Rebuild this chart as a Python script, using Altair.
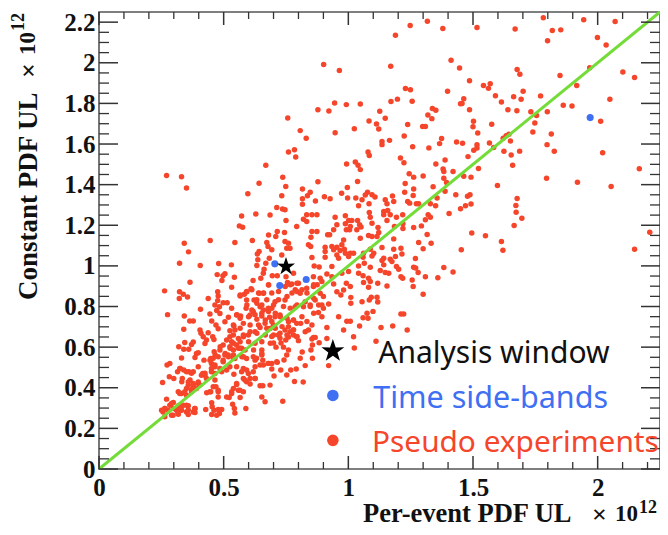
import altair as alt
import pandas as pd

pseudo_lower = [(.342,1.112),(.359,1.069),(.323,1.013),(.406,1.002),(.480,1.012),(.531,1.005),(.446,1.125),(.545,1.115),(.615,1.125),(.673,1.115),(.678,1.095),(.642,1.071),(.635,1.059),(.637,1.030),(.683,1.038),(.633,1.002),(.669,1.013),(.662,.984),(.659,.964),(.474,.957),(.497,.951),(.505,.961),(.543,.944),(.493,.928),(.618,.928),(.649,.939),(.365,.919),(.532,.895),(.680,.906),(.263,.877),(.323,.873),(.338,.860),(.322,.840),(.355,.847),(.476,.873),(.478,.852),(.438,.839),(.476,.829),(.583,.860),(.566,.852),(.592,.873),(.610,.887),(.592,.832),(.643,.865),(.659,.865),(.622,.832),(.633,.816),(.465,.808),(.498,.819),(.514,.819),(.483,.799),(.407,.786),(.275,.760),(.342,.753),(.472,.780),(.445,.763),(.485,.766),(.532,.791),(.519,.747),(.505,.725),(.452,.729),(.469,.709),(.478,.691),(.552,.758),(.568,.753),(.590,.791),(.619,.775),(.646,.799),(.659,.783),(.679,.791),(.653,.753),(.684,.747),(.606,.758),(.364,.729),(.378,.729),(.340,.688),(.541,.704),(.525,.681),(.545,.684),(.579,.717),(.633,.737),(.666,.717),(.646,.697),(.626,.676),(.686,.692),(.405,.684),(.409,.668),(.438,.671),(.418,.651),(.431,.635),(.425,.618),(.456,.651),(.461,.638),(.344,.623),(.378,.625),(.371,.613),(.320,.602),(.340,.590),(.360,.590),(.525,.651),(.539,.660),(.512,.635),(.532,.627),(.559,.643),(.579,.651),(.599,.660),(.552,.610),(.525,.602),(.498,.610),(.485,.586),(.539,.586),(.572,.594),(.505,.561),(.462,.577),(.391,.569),(.398,.572),(.385,.549),(.331,.546),(.421,.536),(.448,.544),(.478,.553),(.451,.520),(.465,.512),(.519,.553),(.545,.544),(.498,.528),(.525,.503),(.552,.503),(.592,.544),(.619,.553),(.653,.561),(.626,.536),(.657,.536),(.646,.512),(.626,.503),(.679,.520),(.284,.520),(.273,.512),(.326,.495),(.315,.479),(.340,.487),(.360,.479),(.378,.479),(.398,.503),(.416,.470),(.425,.462),(.465,.470),(.451,.495),(.492,.479),(.512,.487),(.541,.467),(.579,.495),(.572,.479),(.599,.470),(.619,.479),(.579,.446),(.592,.429),(.606,.418),(.626,.446),(.646,.410),(.657,.410),(.686,.413),(.282,.454),(.300,.446),(.255,.426),(.332,.429),(.334,.446),(.365,.438),(.358,.413),(.378,.413),(.398,.421),(.431,.446),(.351,.396),(.371,.393),(.391,.396),(.405,.413),(.318,.380),(.331,.372),(.351,.363),(.371,.380),(.432,.375),(.448,.380),(.469,.405),(.478,.380),(.465,.438),(.478,.355),(.552,.416),(.559,.388),(.539,.396),(.532,.372),(.522,.352),(.566,.352),(.579,.380),(.653,.355),(.666,.331),(.271,.344),(.298,.327),(.284,.314),(.264,.298),(.251,.289),(.277,.289),(.298,.298),(.318,.311),(.338,.314),(.358,.311),(.385,.298),(.311,.289),(.331,.289),(.351,.281),(.385,.278),(.291,.265),(.264,.257),(.318,.270),(.358,.268),(.428,.293),(.452,.326),(.454,.306),(.461,.289),(.478,.293),(.492,.293),(.483,.273),(.452,.268),(.472,.265),(.536,.319),(.543,.298),(.545,.276),(.589,.298)]

pseudo_center = [(.807,1.666),(.947,1.655),(.831,1.628),(.760,1.561),(.784,1.572),(.789,1.536),(1.135,1.613),(1.135,1.597),(1.165,1.618),(1.224,1.640),(1.258,1.587),(1.323,1.581),(1.374,1.627),(1.366,1.602),(1.434,1.610),(1.458,1.604),(1.079,1.561),(1.084,1.543),(1.209,1.531),(1.223,1.508),(1.480,1.538),(.993,1.502),(1.028,1.511),(1.039,1.495),(1.048,1.474),(1.351,1.502),(1.388,1.521),(1.380,1.477),(1.383,1.465),(1.420,1.465),(1.244,1.454),(1.262,1.437),(1.300,1.442),(1.383,1.432),(1.394,1.411),(1.463,1.441),(.737,1.436),(.878,1.414),(1.037,1.416),(1.228,1.406),(.749,1.391),(.816,1.378),(.996,1.386),(1.262,1.378),(1.340,1.390),(1.388,1.367),(.847,1.362),(.836,1.345),(.733,1.345),(.973,1.358),(1.077,1.362),(1.068,1.349),(1.095,1.350),(1.107,1.339),(1.226,1.362),(1.260,1.347),(1.177,1.344),(1.431,1.350),(1.488,1.350),(.816,1.331),(.816,1.303),(.868,1.319),(.904,1.340),(.927,1.331),(.997,1.334),(1.030,1.334),(1.055,1.326),(1.083,1.306),(1.041,1.296),(1.148,1.326),(1.155,1.306),(1.182,1.317),(1.238,1.317),(1.246,1.309),(1.273,1.306),(1.282,1.306),(1.356,1.334),(1.329,1.306),(1.350,1.296),(1.470,1.296),(1.450,1.281),(.713,1.288),(.736,1.280),(.746,1.276),(.686,1.250),(.854,1.252),(.833,1.252),(.874,1.252),(.820,1.230),(.833,1.219),(.750,1.224),(.793,1.194),(.947,1.240),(.988,1.247),(1.084,1.263),(1.088,1.240),(1.142,1.268),(1.158,1.273),(1.168,1.252),(1.142,1.252),(1.155,1.224),(1.193,1.240),(1.218,1.252),(1.404,1.258),(1.320,1.252),(1.329,1.240),(1.309,1.227),(1.001,1.224),(1.014,1.224),(.988,1.207),(1.008,1.194),(.992,1.178),(1.005,1.178),(1.037,1.224),(1.045,1.202),(1.034,1.178),(1.051,1.191),(.954,1.202),(.941,1.178),(1.095,1.210),(1.119,1.189),(1.185,1.194),(1.219,1.207),(1.219,1.184),(1.262,1.189),(1.293,1.197),(.715,1.169),(.744,1.164),(.854,1.169),(.874,1.169),(.850,1.141),(.917,1.153),(.925,1.153),(.981,1.128),(1.081,1.150),(1.095,1.145),(1.115,1.145),(1.048,1.136),(1.122,1.164),(1.316,1.155),(1.182,1.133),(1.282,1.115),(1.332,1.112),(.709,1.145),(.746,1.120),(.760,1.112),(.840,1.104),(.849,1.095),(.907,1.092),(.934,1.095),(.954,1.092),(.974,1.104),(.984,1.082),(.967,1.076),(1.008,1.062),(.988,1.062),(.941,1.079),(.907,1.071),(.907,1.043),(.954,1.054),(.961,1.038),(1.001,1.046),(1.021,1.062),(1.061,1.062),(1.088,1.082),(1.102,1.062),(1.135,1.090),(1.182,1.082),(1.211,1.087),(1.300,1.084),(1.453,1.079),(.766,1.087),(.753,1.087),(.854,1.041),(.733,1.054),(.693,1.079),(1.059,1.043),(1.095,1.049),(1.142,1.038),(1.168,1.033),(1.189,1.046),(1.215,1.059),(1.269,1.036),(.863,1.000),(.883,.995),(.934,.997),(1.041,1.000),(1.064,1.013),(1.088,.993),(1.135,1.026),(1.142,1.005),(1.128,.977),(1.148,.967),(1.162,.964),(1.175,1.021),(1.193,.997),(1.202,.983),(1.262,.993),(1.270,.990),(1.280,.967),(1.309,.947),(1.359,.942),(1.383,.992),(1.420,.970),(.695,.951),(.715,.951),(.750,.947),(.780,.964),(.860,.947),(.887,.939),(.914,.960),(.934,.947),(.974,.964),(1.001,.972),(1.041,.964),(1.059,.952),(1.081,.939),(1.088,.923),(1.118,.914),(1.061,.918),(1.155,.901),(1.211,.947),(1.218,.939),(1.256,.931),(1.260,.898),(1.300,.860),(1.081,.895),(.756,.918),(.773,.911),(.800,.914),(.833,.890),(.860,.898),(.894,.923),(.941,.911),(.992,.914),(1.008,.898),(.981,.881),(.954,.873),(.970,.857),(.787,.882),(.807,.865),(.887,.865),(.900,.849),(1.010,.845),(1.010,.816),(1.055,.824),(1.084,.832),(1.092,.846),(1.115,.846),(1.118,.822),(.706,.824),(.693,.791),(.746,.832),(.787,.799),(.820,.799),(.847,.807),(.867,.832),(.894,.807),(.921,.812),(.900,.791),(.880,.770),(.894,.750),(.961,.750),(.994,.727),(1.008,.727),(.914,.697),(.981,.684),(1.045,.704),(1.059,.745),(1.075,.767),(1.079,.742),(1.099,.776),(1.131,.697),(1.178,.704),(1.211,.763),(1.222,.763),(1.236,.684),(1.021,.651),(.914,.643),(.860,.648),(.827,.676),(.793,.717),(.809,.717),(.780,.733),(.760,.725),(.726,.758),(.706,.750),(.746,.684),(.766,.676),(.854,.709),(.840,.684),(.793,.651),(.726,.668),(.699,.709)]

pseudo_upper = [(.901,1.991),(.964,1.962),(.878,1.769),(.922,1.763),(.945,1.802),(.992,1.794),(1.048,1.797),(1.126,1.761),(.757,1.728),(1.083,1.713),(1.113,1.699),(1.122,1.674),(1.024,1.675),(.271,1.445),(.331,1.439),(.351,1.383),(.669,1.495),(.642,1.407),(.597,1.355),(.572,1.246),(.629,1.256),(.563,1.197),(.576,1.190),(.680,1.152),(1.248,2.184),(1.317,2.205),(1.189,2.135),(1.379,2.169),(1.412,2.013),(1.446,1.974),(1.170,1.983),(1.229,1.873),(1.249,1.867),(1.398,1.860),(1.197,1.821),(1.171,1.809),(1.256,1.811),(1.450,1.798),(1.337,1.775),(1.351,1.766),(1.319,1.743),(1.335,1.725),(1.148,1.727),(1.238,1.696),(1.298,1.686),(1.309,1.686)]

pseudo_right = [(1.782,2.222),(1.944,2.212),(2.070,2.203),(1.516,2.174),(1.669,2.166),(1.818,2.159),(1.852,2.162),(1.799,2.108),(1.999,2.124),(2.034,2.087),(1.677,1.967),(1.688,1.944),(1.968,1.976),(1.849,1.937),(2.101,1.955),(2.148,1.927),(1.916,1.888),(1.486,1.912),(1.542,1.888),(1.569,1.897),(1.562,1.874),(1.701,1.860),(1.590,1.838),(1.614,1.807),(1.663,1.833),(1.693,1.820),(1.771,1.837),(2.049,1.820),(1.463,1.823),(1.456,1.799),(1.486,1.769),(1.640,1.769),(1.676,1.764),(1.862,1.791),(1.897,1.787),(1.732,1.759),(1.755,1.740),(1.798,1.759),(2.012,1.712),(1.502,1.712),(1.500,1.685),(1.575,1.697),(1.519,1.654),(1.748,1.703),(1.740,1.659),(1.814,1.649),(1.633,1.641),(1.644,1.648),(1.621,1.629),(1.650,1.615),(1.566,1.605),(1.516,1.597),(1.516,1.580),(1.503,1.569),(1.583,1.583),(1.797,1.597),(1.624,1.564),(1.687,1.565),(1.653,1.546),(1.826,1.564),(2.020,1.557),(1.659,1.495),(1.522,1.480),(2.167,1.478),(1.492,1.437),(1.795,1.432),(1.919,1.412),(2.054,1.391),(1.598,1.396),(1.478,1.343),(1.677,1.332),(1.492,1.305),(1.672,1.297),(1.673,1.264),(1.696,1.235),(1.665,1.199),(2.209,1.166),(1.495,1.162),(1.550,1.148),(1.614,1.120),(1.620,1.077),(2.148,1.082)]

pseudo_low_mid = [(1.024,.596),(1.111,.629),(.883,.622),(.854,.640),(.867,.648),(.856,.611),(.850,.586),(.856,.545),(.815,.576),(.807,.545),(.827,.509),(.921,.509),(.800,.632),(.760,.586),(.753,.561),(.742,.537),(.715,.525),(.693,.520),(.693,.492),(.729,.487),(.769,.487),(.791,.492),(.753,.463),(.702,.458),(.784,.431),(.819,.428),(.737,.334),(.749,.635),(.726,.644),(.780,.685),(.70,.62),(.71,.60),(.73,.62),(.76,.65),(.78,.66),(.72,.66),(.74,.60),(.70,.66)]

pseudo_dense = [(.593,.874),(.613,.882),(.566,.857),(.640,.866),(.660,.866),(.680,.907),(.693,.866),(.720,.874),(.747,.898),(.767,.907),(.794,.915),(.794,.874),(.774,.866),(.754,.849),(.814,.882),(.834,.866),(.861,.907),(.875,.907),(.633,.833),(.653,.808),(.673,.833),(.700,.808),(.720,.833),(.740,.800),(.767,.792),(.794,.808),(.827,.824),(.861,.841),(.881,.808),(.847,.800),(.593,.808),(.613,.783),(.626,.759),(.553,.759),(.566,.742),(.600,.750),(.653,.767),(.680,.775),(.707,.767),(.727,.750),(.667,.734),(.693,.726),(.754,.742),(.780,.734),(.814,.750),(.834,.726),(.861,.767),(.760,.701),(.734,.701),(.707,.693),(.673,.693),(.640,.709),(.606,.709),(.566,.693),(.539,.709),(.579,.660),(.606,.676),(.633,.668),(.667,.660),(.693,.652),(.720,.660),(.754,.660),(.780,.685),(.794,.652),(.566,.627),(.600,.627),(.626,.619),(.653,.627),(.687,.619),(.539,.619),(.526,.594),(.559,.594),(.586,.586),(.620,.586),(.653,.586),(.506,.569),(.539,.561),(.573,.553),(.486,.602),(.466,.561),(.324,.495),(.351,.479),(.371,.471),(.358,.429),(.378,.421),(.398,.429),(.411,.462),(.425,.471),(.451,.479),(.465,.503),(.485,.495),(.445,.536),(.458,.545),(.498,.536),(.518,.561),(.539,.545),(.565,.594),(.579,.553),(.592,.487),(.632,.545),(.653,.569),(.713,.528),(.679,.520),(.659,.512),(.585,.438),(.606,.446),(.626,.446),(.552,.421),(.565,.388),(.532,.380),(.512,.355),(.458,.405),(.478,.388),(.445,.380),(.324,.372),(.344,.380),(.311,.298),(.331,.306),(.351,.314),(.291,.323),(.264,.298),(.257,.281),(.297,.265),(.358,.290),(.384,.298),(.378,.281),(.317,.273)]

sideband_x = [.705, .725, .831, 1.970]
sideband_y = [1.010, .903, .933, 1.730]
analysis_x = [.750]
analysis_y = [.997]
legend_labels = ["Analysis window", "Time side-bands", "Pseudo experiments"]
legend_x = [.938, .938, .938]
legend_y = [.581, .362, .141]
legend_text_x = [1.12, 1.10, 1.095]
legend_text_y = [.565, .345, .130]
legend_text_size = [30, 30.5, 29.8]
x_major = [0, .5, 1, 1.5, 2]
x_minor = [.1,.2,.3,.4,.6,.7,.8,.9,1.1,1.2,1.3,1.4,1.6,1.7,1.8,1.9,2.1,2.2]
y_major = [0,.2,.4,.6,.8,1,1.2,1.4,1.6,1.8,2,2.2]
y_minor = [.05,.1,.15,.25,.3,.35,.45,.5,.55,.65,.7,.75,.85,.9,.95,1.05,1.1,1.15,1.25,1.3,1.35,1.45,1.5,1.55,1.65,1.7,1.75,1.85,1.9,1.95,2.05,2.1,2.15]
RED, BLUE, GREEN, INK = "#f5452a", "#3f6ff2", "#74dc38", "#333333"
W, H, MAXV = 561, 457, 2.25
SERIF = "Liberation Serif"
STAR = "M0,-1L0.24,-0.3L0.95,-0.31L0.38,0.12L0.59,0.81L0,0.4L-0.59,0.81L-0.38,0.12L-0.95,-0.31L-0.24,-0.3Z"

xs = alt.Scale(domain=[0, MAXV], nice=False, zero=False)
ys = alt.Scale(domain=[0, MAXV], nice=False, zero=False)
AX = alt.Axis(values=x_major, tickSize=0, domain=False, grid=False, labelFont=SERIF, labelFontWeight="bold", labelFontSize=25,
              labelColor="#111", labelPadding=6, format="~g", labelFlush=False)
AY = alt.Axis(values=y_major, tickSize=0, domain=False, grid=False, labelFont=SERIF, labelFontWeight="bold", labelFontSize=25,
              labelColor="#111", labelPadding=4, format="~g", labelFlush=False)
pseudo = pd.DataFrame(pseudo_lower + pseudo_center + pseudo_upper + pseudo_right + pseudo_low_mid + pseudo_dense, columns=["x", "y"])

X = lambda a="x": alt.X(f"{a}:Q", scale=xs, title=None, axis=AX)
Y = lambda a="y": alt.Y(f"{a}:Q", scale=ys, title=None, axis=AY)

base = alt.Chart(pseudo).mark_circle(color=RED, size=30, opacity=1).encode(x=X(), y=Y())

def xticks(vals, length, width):
    d = pd.DataFrame({"x": vals})
    c = alt.Chart(d).mark_rule(color=INK, strokeWidth=width)
    return (c.encode(x=X(), y=alt.value(H), y2=alt.value(H - length))
            + c.encode(x=X(), y=alt.value(0), y2=alt.value(length)))

def yticks(vals, length, width):
    d = pd.DataFrame({"y": vals})
    c = alt.Chart(d).mark_rule(color=INK, strokeWidth=width)
    return (c.encode(y=Y(), x=alt.value(0), x2=alt.value(length))
            + c.encode(y=Y(), x=alt.value(W), x2=alt.value(W - length)))

diag = alt.Chart(pd.DataFrame({"x": [0], "y": [0], "x2": [MAXV], "y2": [MAXV]})).mark_rule(color=GREEN, strokeWidth=3).encode(
    x=X(), y=Y(), x2="x2:Q", y2="y2:Q")
side = alt.Chart(pd.DataFrame({"x": sideband_x, "y": sideband_y})).mark_circle(color=BLUE, size=50, opacity=1).encode(x=X(), y=Y())
star = alt.Chart(pd.DataFrame({"x": analysis_x, "y": analysis_y})).mark_point(shape=STAR, filled=True, color="black", size=360, opacity=1).encode(x=X(), y=Y())

leg = pd.DataFrame({"x": legend_x, "y": legend_y, "tx": legend_text_x, "ty": legend_text_y, "label": legend_labels})
leg_star = alt.Chart(leg.iloc[[0]]).mark_point(shape=STAR, filled=True, color="black", size=580, opacity=1).encode(x=X(), y=Y())
leg_blue = alt.Chart(leg.iloc[[1]]).mark_circle(color=BLUE, size=135, opacity=1).encode(x=X(), y=Y())
leg_red = alt.Chart(leg.iloc[[2]]).mark_circle(color=RED, size=135, opacity=1).encode(x=X(), y=Y())

def leg_text(i, color):
    return alt.Chart(leg.iloc[[i]]).mark_text(font="Noto Sans", fontSize=legend_text_size[i], color=color, align="left", baseline="middle", clip=False).encode(
        x=X("tx"), y=Y("ty"), text="label:N")

def label(text, px, py, size, angle=0, align="left"):
    return alt.Chart(pd.DataFrame({"t": [text]})).mark_text(font=SERIF, fontWeight="bold", fontSize=size, color="#111", align=align,
        baseline="middle", angle=angle).encode(x=alt.value(px), y=alt.value(py), text="t:N")

titles = (label("Per-event PDF UL", 264, 502, 26.5) + label("×", 493, 503, 26) + label("10", 516, 502, 23) + label("12", 540, 496, 18)
          + label("Constant PDF UL", -70, 288, 27, angle=270) + label("×", -70, 66, 26, angle=270)
          + label("10", -71, 43, 23, angle=270) + label("12", -80, 19, 18, angle=270))

chart = alt.layer(
    base, diag, side, star,
    xticks(x_major, 13, 1.5), xticks(x_minor, 7, 1.3), yticks(y_major, 19, 1.5), yticks(y_minor, 10, 1.3),
    leg_star, leg_blue, leg_red,
    leg_text(0, "#111111"), leg_text(1, BLUE), leg_text(2, RED),
    titles,
).properties(
    width=W, height=H, autosize=alt.AutoSizeParams(type="none"),
    padding={"left": 91, "top": 4, "right": 0, "bottom": 58},
).configure_view(stroke="#555555", strokeWidth=1.6)

chart.save("out.html", embed_options={"renderer": "svg", "actions": False})
